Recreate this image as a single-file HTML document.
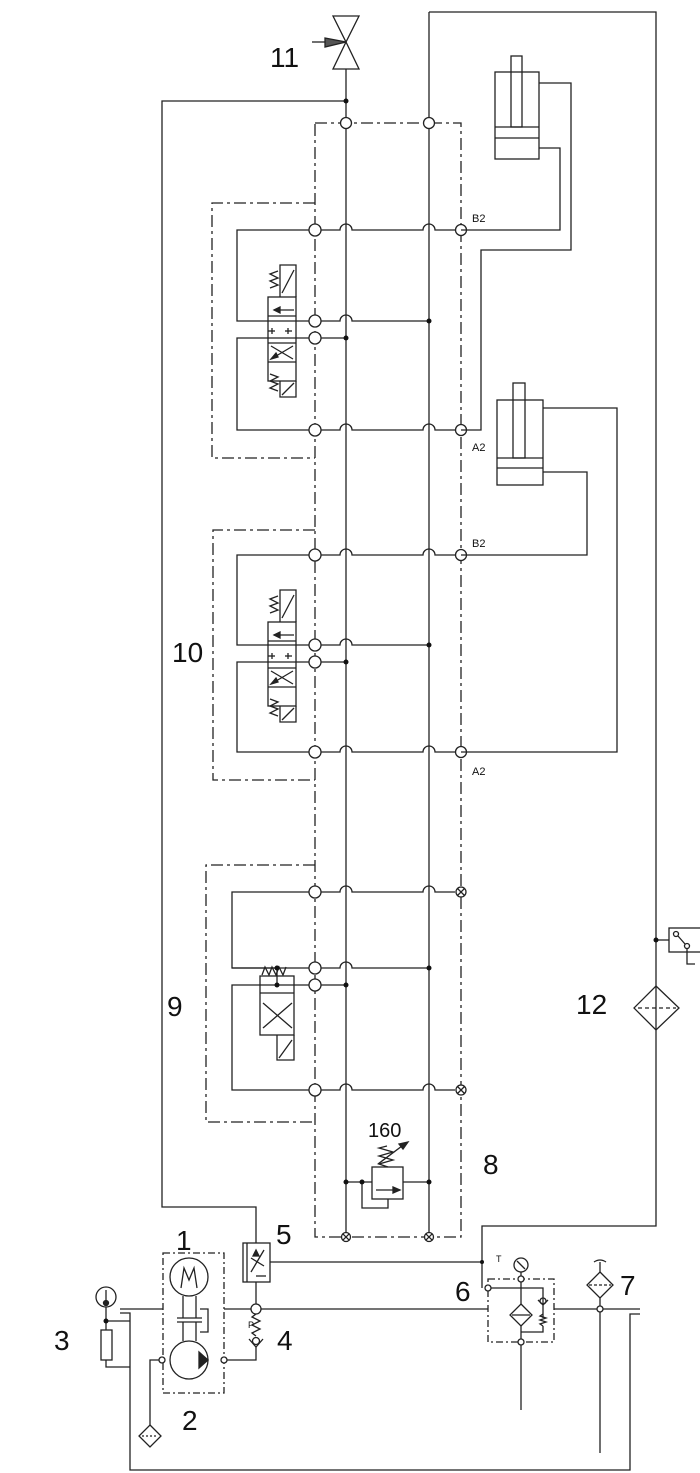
<!DOCTYPE html>
<html><head><meta charset="utf-8"><style>
html,body{margin:0;padding:0;background:#fff;}
svg{display:block;}
text{font-family:"Liberation Sans",sans-serif;fill:#111;}
.big{font-size:28px;}
.sm{font-size:11px;}
</style></head><body>
<svg width="700" height="1473" viewBox="0 0 700 1473" xmlns="http://www.w3.org/2000/svg">
<g fill="none" stroke="#222" stroke-width="1.3">
<line x1="346" y1="69" x2="346" y2="1233"/>
<line x1="429" y1="12" x2="429" y2="1233"/>
<polyline points="429,12 656,12 656,1226 482,1226 482,1288"/>
<!-- valve 11 -->
<polygon points="333,16 359,16 346,42"/>
<polygon points="333,69 359,69 346,42"/>
<line x1="312" y1="42" x2="326" y2="42"/>
<polygon points="325,38 346,42 325,47" fill="#555"/>
<polyline points="346,101 162,101 162,1207 256,1207 256,1243"/>
<rect x="315" y="123" width="146" height="1114" stroke-dasharray="12,4,3,4"/>
<polyline points="315,203 212,203 212,458 315,458" stroke-dasharray="12,4,3,4"/>
<polyline points="315,530 213,530 213,780 315,780" stroke-dasharray="12,4,3,4"/>
<polyline points="315,865 206,865 206,1122 315,1122" stroke-dasharray="12,4,3,4"/>

<g id="full"><path d="M321 230 H340 a6 6 0 0 1 12 0 H423 a6 6 0 0 1 12 0 H455"/></g>
<use href="#full" transform="translate(0,200)"/>
<use href="#full" transform="translate(0,325)"/>
<use href="#full" transform="translate(0,522)"/>
<use href="#full" transform="translate(0,662)"/>
<use href="#full" transform="translate(0,860)"/>
<path d="M321 321 H340 a6 6 0 0 1 12 0 H429"/>
<path d="M321 645 H340 a6 6 0 0 1 12 0 H429"/>
<path d="M321 968 H340 a6 6 0 0 1 12 0 H429"/>
<line x1="321" y1="338" x2="346" y2="338"/>
<line x1="321" y1="662" x2="346" y2="662"/>
<line x1="321" y1="985" x2="346" y2="985"/>

<g fill="#fff">
<circle cx="346" cy="123" r="5.5"/><circle cx="429" cy="123" r="5.5"/>
<circle cx="315" cy="230" r="6"/><circle cx="315" cy="321" r="6"/><circle cx="315" cy="338" r="6"/><circle cx="315" cy="430" r="6"/>
<circle cx="315" cy="555" r="6"/><circle cx="315" cy="645" r="6"/><circle cx="315" cy="662" r="6"/><circle cx="315" cy="752" r="6"/>
<circle cx="315" cy="892" r="6"/><circle cx="315" cy="968" r="6"/><circle cx="315" cy="985" r="6"/><circle cx="315" cy="1090" r="6"/>
<circle cx="461" cy="230" r="5.5"/><circle cx="461" cy="430" r="5.5"/><circle cx="461" cy="555" r="5.5"/><circle cx="461" cy="752" r="5.5"/>
<circle cx="461" cy="892" r="5"/><circle cx="461" cy="1090" r="5"/>
<circle cx="346" cy="1237" r="4.5"/><circle cx="429" cy="1237" r="4.5"/>
</g>
<path d="M457.5 888.5l7 7M464.5 888.5l-7 7M457.5 1086.5l7 7M464.5 1086.5l-7 7M342.8 1233.8l6.4 6.4M349.2 1233.8l-6.4 6.4M425.8 1233.8l6.4 6.4M432.2 1233.8l-6.4 6.4"/>

<polyline points="309,230 237,230 237,321 309,321"/>
<polyline points="309,338 237,338 237,430 309,430"/>
<polyline points="309,555 237,555 237,645 309,645"/>
<polyline points="309,662 237,662 237,752 309,752"/>
<polyline points="309,892 232,892 232,968 309,968"/>
<polyline points="309,985 232,985 232,1090 309,1090"/>

<g id="v3">
<rect x="268" y="297" width="28" height="84"/>
<line x1="268" y1="316" x2="296" y2="316"/>
<line x1="268" y1="343" x2="296" y2="343"/>
<line x1="268" y1="362" x2="296" y2="362"/>
<polyline points="280,297 280,265 296,265 296,297"/>
<line x1="282" y1="293" x2="294" y2="270"/>
<polyline points="280,381 280,397 296,397 296,381"/>
<line x1="282" y1="395" x2="294" y2="383"/>
<path d="M270 288 l8-3 -8-4 8-3 -8-4 8-3"/>
<path d="M270 374 l8 3 -8 4 8 3 -8 4 8 3"/>
<line x1="274" y1="310" x2="294" y2="310"/><polygon points="274,310 280,307 280,313" fill="#222"/>
<line x1="272" y1="328" x2="272" y2="334"/><line x1="268" y1="331" x2="275" y2="331"/>
<line x1="288" y1="328" x2="288" y2="334"/><line x1="285" y1="331" x2="292" y2="331"/>
<line x1="271" y1="346" x2="293" y2="359"/><line x1="271" y1="359" x2="293" y2="346"/>
<polygon points="271,359 276,353 278,357" fill="#222"/>
</g>
<use href="#v3" transform="translate(0,325)"/>

<rect x="260" y="976" width="34" height="59"/>
<line x1="260" y1="993" x2="294" y2="993"/>
<line x1="277" y1="985" x2="277" y2="970"/>
<polyline points="277,1035 277,1060 294,1060 294,1035"/>
<line x1="279" y1="1058" x2="292" y2="1040"/>
<path d="M262 975 l3-8 4 8 3-8 4 8 3-8 4 8 3-8"/>
<line x1="263" y1="1003" x2="292" y2="1028"/><line x1="263" y1="1028" x2="292" y2="1003"/>
<line x1="232" y1="968" x2="277" y2="968"/>

<rect x="495" y="72" width="44" height="87"/>
<line x1="495" y1="127" x2="539" y2="127"/><line x1="495" y1="138" x2="539" y2="138"/>
<rect x="511" y="56" width="11" height="71"/>
<polyline points="539,83 571,83 571,250 481,250 481,430 461,430"/>
<polyline points="539,148 560,148 560,230 461,230"/>
<rect x="497" y="400" width="46" height="85"/>
<line x1="497" y1="458" x2="543" y2="458"/><line x1="497" y1="468" x2="543" y2="468"/>
<rect x="513" y="383" width="12" height="75"/>
<polyline points="543,408 617,408 617,752 461,752"/>
<polyline points="543,472 587,472 587,555 461,555"/>

<!-- relief valve 160 -->
<rect x="372" y="1167" width="31" height="32"/>
<line x1="376" y1="1190" x2="400" y2="1190"/>
<polygon points="393,1187 400,1190 393,1193" fill="#222"/>
<path d="M388 1167 l-9-3 14-4 -14-4 14-4 -14-4 8-2"/>
<line x1="378" y1="1164" x2="406" y2="1143"/><polygon points="408,1142 399,1144 403,1149" fill="#222"/>
<line x1="346" y1="1182" x2="372" y2="1182"/>
<line x1="403" y1="1182" x2="429" y2="1182"/>
<polyline points="362,1182 362,1208 388,1208 388,1199"/>

<line x1="656" y1="940" x2="669" y2="940"/>
<rect x="669" y="928" width="40" height="24"/>
<circle cx="676" cy="934" r="2.5"/><circle cx="687" cy="946" r="2.5"/><line x1="678" y1="936" x2="685" y2="944"/>
<polyline points="687,949 687,964 695,964"/>
<polygon points="656,986 679,1008 656,1030 634,1008"/>
<line x1="638" y1="1008" x2="676" y2="1008" stroke-dasharray="4,3"/>

<!-- valve 5 -->
<rect x="243" y="1243" width="27" height="39"/>
<line x1="247" y1="1243" x2="247" y2="1282"/>
<line x1="251" y1="1272" x2="264" y2="1250"/><line x1="251" y1="1258" x2="264" y2="1266"/>
<polygon points="256,1250 253,1256 259,1256" fill="#222"/>
<line x1="256" y1="1276" x2="266" y2="1276"/>
<line x1="270" y1="1262" x2="482" y2="1262"/>
<line x1="256" y1="1282" x2="256" y2="1304"/>
<!-- tank -->
<line x1="120" y1="1309" x2="163" y2="1309"/>
<line x1="224" y1="1309" x2="488" y2="1309"/>
<line x1="554" y1="1309" x2="640" y2="1309"/>
<polyline points="120,1313 130,1313 130,1470 630,1470 630,1314 640,1314"/>
<circle cx="256" cy="1309" r="5" fill="#fff"/>
<path d="M256 1314 l-4 3 8 4 -8 4 8 4 -8 4 4 3"/>
<path d="M249 1339 l7 8 7-8"/><circle cx="256" cy="1341" r="3.5"/>
<polyline points="256,1347 256,1360 224,1360"/>
<!-- pump group -->
<rect x="163" y="1253" width="61" height="140" stroke-dasharray="7,3,2,3"/>
<circle cx="189" cy="1277" r="19"/>
<path d="M181 1288 l3-20 5 12 5-12 3 20"/>
<line x1="183" y1="1296" x2="183" y2="1318"/><line x1="196" y1="1296" x2="196" y2="1318"/>
<line x1="177" y1="1318" x2="202" y2="1318"/><line x1="177" y1="1322" x2="202" y2="1322"/>
<line x1="183" y1="1322" x2="183" y2="1341"/><line x1="196" y1="1322" x2="196" y2="1341"/>
<polyline points="200,1309 208,1309 208,1332 200,1332"/>
<circle cx="189" cy="1360" r="19"/>
<polygon points="199,1352 208,1360 199,1368" fill="#222"/>
<circle cx="162" cy="1360" r="3" fill="#fff"/><circle cx="224" cy="1360" r="3" fill="#fff"/>
<polyline points="159,1360 150,1360 150,1425"/>
<polygon points="150,1425 161,1436 150,1447 139,1436"/>
<line x1="142" y1="1436" x2="158" y2="1436" stroke-dasharray="2,2"/>
<!-- thermometer / heater -->
<circle cx="106" cy="1297" r="10"/><line x1="106" y1="1290" x2="106" y2="1301"/><circle cx="106" cy="1303" r="2.5" fill="#222"/>
<line x1="106" y1="1307" x2="106" y2="1330"/>
<polyline points="106,1321 130,1321"/>
<rect x="101" y="1330" width="11" height="30"/>
<polyline points="106,1360 106,1367 130,1367"/>
<!-- filter 6 -->
<rect x="488" y="1279" width="66" height="63" stroke-dasharray="7,3,2,3"/>
<polyline points="491,1288 543,1288 543,1318"/>
<circle cx="488" cy="1288" r="3" fill="#fff"/>
<circle cx="521" cy="1265" r="7"/><line x1="517" y1="1261" x2="525" y2="1269"/>
<line x1="521" y1="1272" x2="521" y2="1304"/>
<circle cx="521" cy="1279" r="3" fill="#fff"/>
<polygon points="521,1304 532,1315 521,1326 510,1315"/>
<line x1="512" y1="1315" x2="530" y2="1315"/>
<line x1="521" y1="1326" x2="521" y2="1410"/>
<polyline points="521,1332 543,1332 543,1326"/>
<path d="M543 1314 l-3 2 6 2 -6 2 6 2 -6 2 3 2"/>
<path d="M538 1300 l5 5 5-5"/><circle cx="543" cy="1301" r="3"/>
<circle cx="521" cy="1342" r="3" fill="#fff"/>
<!-- filter 7 -->
<path d="M594 1262 q6-4 12 0"/>
<line x1="600" y1="1262" x2="600" y2="1272"/>
<polygon points="600,1272 613,1285 600,1298 587,1285"/>
<line x1="589" y1="1285" x2="611" y2="1285" stroke-dasharray="3,2"/>
<line x1="600" y1="1298" x2="600" y2="1453"/>
<circle cx="600" cy="1309" r="3" fill="#fff"/>
</g>
<g fill="#111">
<circle cx="346" cy="101" r="2.5"/>
<circle cx="429" cy="321" r="2.5"/><circle cx="346" cy="338" r="2.5"/>
<circle cx="429" cy="645" r="2.5"/><circle cx="346" cy="662" r="2.5"/>
<circle cx="429" cy="968" r="2.5"/><circle cx="346" cy="985" r="2.5"/>
<circle cx="277" cy="968" r="2.5"/><circle cx="277" cy="985" r="2.5"/>
<circle cx="346" cy="1182" r="2.5"/><circle cx="362" cy="1182" r="2.5"/><circle cx="429" cy="1182" r="2.5"/>
<circle cx="656" cy="940" r="2.5"/><circle cx="106" cy="1321" r="2.5"/>
<circle cx="482" cy="1262" r="2"/>
</g>
<g class="big">
<text x="270" y="67">11</text>
<text x="172" y="662">10</text>
<text x="167" y="1016">9</text>
<text x="576" y="1014">12</text>
<text x="483" y="1174">8</text>
<text x="176" y="1250">1</text>
<text x="276" y="1244">5</text>
<text x="455" y="1301">6</text>
<text x="620" y="1295">7</text>
<text x="277" y="1350">4</text>
<text x="54" y="1350">3</text>
<text x="182" y="1430">2</text>
</g>
<text x="368" y="1137" style="font-size:20px">160</text>
<g class="sm">
<text x="472" y="222">B2</text><text x="472" y="451">A2</text>
<text x="472" y="547">B2</text><text x="472" y="775">A2</text>
<text x="496" y="1262" style="font-size:9px">T</text>
<text x="248" y="1328" style="font-size:9px">P</text>
</g>
</svg>
</body></html>
